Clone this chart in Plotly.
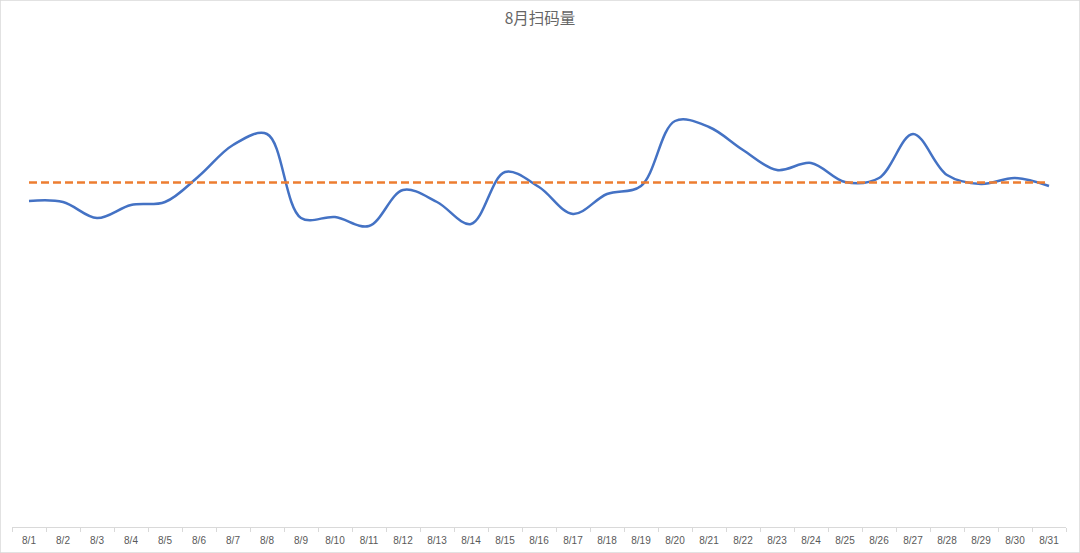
import plotly.graph_objects as go

days = [f"8/{d}" for d in range(1, 32)]
scans = [1304, 1300, 1236, 1288, 1300, 1404, 1528, 1572, 1236, 1240,
         1204, 1348, 1300, 1212, 1420, 1360, 1252, 1332, 1364, 1624,
         1600, 1508, 1428, 1456, 1380, 1396, 1572, 1408, 1372, 1396, 1364]
avg_value = sum(scans) / len(scans)
avg_line = [avg_value] * len(scans)
title_text = "8月扫码量"

fig = go.Figure()
fig.add_trace(go.Scatter(
    x=days, y=scans, mode="lines",
    line=dict(color="#4472C4", width=2.5, shape="spline", smoothing=1.0),
    name="扫码量", hoverinfo="x+y"))
fig.add_trace(go.Scatter(
    x=days, y=avg_line, mode="lines",
    line=dict(color="#ED7D31", width=2.5, dash="8px,4px"),
    name="平均值", hoverinfo="y"))

fig.update_layout(
    width=1080, height=553,
    margin=dict(l=12, r=14, t=37, b=26, autoexpand=False),
    paper_bgcolor="white", plot_bgcolor="white",
    showlegend=False,
    title=dict(text=title_text, x=0.5, xanchor="center", y=0.967, yanchor="middle",
               font=dict(family="Noto Sans CJK SC, Noto Sans, sans-serif", size=15.5, color="#666666")),
    xaxis=dict(type="category", range=[-0.5, 30.5], showgrid=False, zeroline=False,
               showline=True, linecolor="#D9D9D9", linewidth=1,
               ticks="outside", tickson="boundaries", ticklen=4, tickcolor="#D9D9D9",
               ticklabelstandoff=4, automargin=False,
               tickfont=dict(family="Liberation Sans, Arial, sans-serif", size=10, color="#595959"),
               fixedrange=True),
    yaxis=dict(range=[0, 1960], visible=False, showgrid=False, zeroline=False, fixedrange=True),
    shapes=[dict(type="rect", xref="paper", yref="paper",
                 x0=-12/1054, x1=1+14/1054, y0=-26/490, y1=1+37/490,
                 line=dict(color="#D9D9D9", width=1.5), layer="below")],
)

fig.write_html("out.html")
